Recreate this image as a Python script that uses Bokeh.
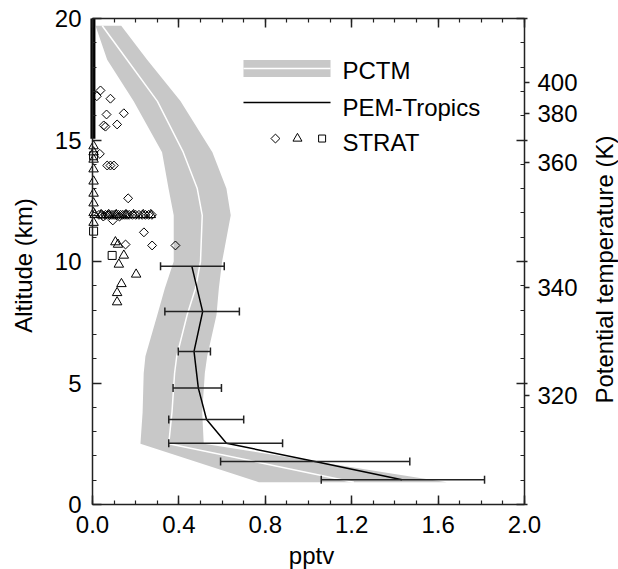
import math
from bokeh.plotting import figure
from bokeh.models import (LinearAxis, SingleIntervalTicker, FixedTicker, PrintfTickFormatter,
                          CustomJSTickFormatter, Whisker, TeeHead, ColumnDataSource, Range1d)
from bokeh.core.properties import value
from bokeh.embed import file_html
from bokeh.resources import INLINE

# ---------------- data ----------------
# PCTM model band: altitude (km), lower / mean / upper mixing ratio (pptv)
pctm_alt  = [19.7, 18.3, 16.6, 14.5, 13.0, 11.9, 10.0, 8.9, 7.8, 6.1, 5.4, 3.8, 2.5, 0.92]
pctm_low  = [0.014, 0.068, 0.19, 0.322, 0.352, 0.376, 0.376, 0.335, 0.30, 0.245, 0.237, 0.232, 0.222, 0.77]
pctm_mean = [0.045, 0.16, 0.30, 0.42, 0.485, 0.508, 0.50, 0.477, 0.438, 0.39, 0.38, 0.368, 0.353, 1.21]
pctm_high = [0.133, 0.253, 0.407, 0.555, 0.62, 0.64, 0.60, 0.585, 0.574, 0.531, 0.52, 0.508, 0.515, 1.64]

# PEM-Tropics profile with error bars
pem_alt  = [9.8, 7.94, 6.3, 4.79, 3.5, 2.52, 1.77, 1.02]
pem_mean = [0.46, 0.51, 0.47, 0.49, 0.528, 0.62, 1.03, 1.433]
pem_low  = [0.315, 0.335, 0.397, 0.373, 0.353, 0.353, 0.593, 1.059]
pem_high = [0.61, 0.68, 0.546, 0.597, 0.70, 0.88, 1.469, 1.815]

# STRAT observations
strat_dia_x = [0.037, 0.02, 0.083, 0.065, 0.145, 0.06, 0.052, 0.114, 0.034, 0.068, 0.083, 0.099,
               0.165, 0.094, 0.238, 0.153, 0.276, 0.384,
               0.03, 0.045, 0.06, 0.07, 0.08, 0.09, 0.10, 0.11, 0.12, 0.13, 0.14, 0.15, 0.16,
               0.17, 0.185, 0.20, 0.215, 0.23, 0.245, 0.26, 0.275, 0.05, 0.125]
strat_dia_alt = [17.04, 16.8, 16.7, 16.05, 16.1, 15.55, 15.6, 15.64, 14.43, 13.95, 13.95, 13.95,
                 12.6, 11.69, 11.2, 10.7, 10.66, 10.66,
                 11.92, 11.92, 11.92, 11.92, 11.92, 11.92, 11.92, 11.92, 11.92, 11.92, 11.92, 11.92, 11.92,
                 11.92, 11.92, 11.92, 11.92, 11.92, 11.92, 11.92, 11.92, 11.85, 11.85]
strat_tri_x = [0.005, 0.005, 0.005, 0.005, 0.005, 0.005, 0.005, 0.005, 0.005,
               0.01, 0.04, 0.075, 0.11, 0.155, 0.19, 0.235, 0.27,
               0.106, 0.118, 0.145, 0.122, 0.202, 0.134, 0.114, 0.114]
strat_tri_alt = [14.75, 14.5, 14.2, 13.8, 13.3, 12.8, 12.4, 12.0, 11.6,
                 11.92, 11.92, 11.92, 11.92, 11.92, 11.92, 11.92, 11.92,
                 10.8, 10.7, 10.25, 9.88, 9.47, 9.08, 8.71, 8.33]
strat_sq_x = [0.005, 0.005, 0.091]
strat_sq_alt = [14.35, 11.25, 10.25]
# near-zero STRAT samples above 15 km (dense column at the axis)
strat_col_x = [0.002, 0.002]
strat_col_alt = [15.05, 20.0]

# potential temperature ticks (right axis)
theta_labels = ["320", "340", "360", "380", "400"]
theta_alt = [4.49, 8.94, 14.09, 16.08, 17.35]

legend_labels = ["PCTM", "PEM-Tropics", "STRAT"]

FONT = "Liberation Sans"
FS = "24px"
GRAY = "#c8c8c8"
AX = "#222222"

# ---------------- layout: plot box 0..2 x 0..20, axes fixed on the box edges ----------------
W, H = 618, 569
BOX_L, BOX_R, BOX_T, BOX_B = 92, 524, 18, 504          # pixel position of the data box
XMIN, XMAX, YMIN, YMAX = 0.0, 2.0, 0.0, 20.0
sx = (BOX_R - BOX_L) / (XMAX - XMIN)
sy = (BOX_B - BOX_T) / (YMAX - YMIN)
x_range = Range1d(XMIN - BOX_L / sx, XMAX + (W - BOX_R) / sx)
y_range = Range1d(YMIN - (H - BOX_B) / sy, YMAX + BOX_T / sy)

def px_x(px):   # horizontal pixel -> data x (for text placement)
    return XMIN + (px - BOX_L) / sx

def px_y(py):   # vertical pixel -> data y (for text placement)
    return YMIN + (BOX_B - py) / sy

p = figure(width=W, height=H, x_range=x_range, y_range=y_range,
           output_backend="svg", toolbar_location=None,
           x_axis_location=None, y_axis_location=None,
           min_border_left=0, min_border_right=0, min_border_top=0, min_border_bottom=0)
p.outline_line_color = None
p.background_fill_color = "white"
p.border_fill_color = "white"
p.grid.grid_line_color = None

# PCTM band
band_x = pctm_low + pctm_high[::-1]
band_y = pctm_alt + pctm_alt[::-1]
p.patch(band_x, band_y, fill_color=GRAY, line_color=None)
p.line(pctm_mean, pctm_alt, line_color="white", line_width=1.5)

# STRAT
p.segment(x0=[strat_col_x[0]], y0=[strat_col_alt[0]], x1=[strat_col_x[1]], y1=[strat_col_alt[1]],
          line_color="black", line_width=5)
p.scatter(strat_dia_x, strat_dia_alt, marker="square", angle=math.pi / 4, size=6.3,
          fill_color=None, line_color="black", line_width=1)
p.scatter(strat_tri_x, strat_tri_alt, marker="triangle", size=9.5,
          fill_color=None, line_color="black", line_width=1)
p.scatter(strat_sq_x, strat_sq_alt, marker="square", size=8,
          fill_color=None, line_color="black", line_width=1)

# PEM-Tropics
src = ColumnDataSource(dict(alt=pem_alt, mean=pem_mean, lo=pem_low, hi=pem_high))
wh = Whisker(source=src, base="alt", lower="lo", upper="hi", dimension="width",
             line_color="#222222", line_width=1.5, level="glyph",
             lower_head=TeeHead(size=8, line_color="#222222", line_width=1.5),
             upper_head=TeeHead(size=8, line_color="#222222", line_width=1.5))
p.add_layout(wh)
p.line("mean", "alt", source=src, line_color="black", line_width=1.5)

# ---------------- legend (drawn manually) ----------------
lx0, lx1 = 0.699, 1.102
ltx = 1.157
p.quad(left=[lx0], right=[lx1], bottom=[17.59], top=[18.29], fill_color=GRAY, line_color=None)
p.line([lx0, lx1], [17.94, 17.94], line_color="white", line_width=1.5)
p.line([lx0, lx1], [16.54, 16.54], line_color="black", line_width=1.5)
p.scatter([0.847], [15.06], marker="square", angle=math.pi / 4, size=6.3,
          fill_color=None, line_color="black", line_width=1)
p.scatter([0.949], [15.06], marker="triangle", size=9, fill_color=None, line_color="black", line_width=1)
p.scatter([1.063], [15.06], marker="square", size=7, fill_color=None, line_color="black", line_width=1)
p.text(x=[ltx] * 3, y=[17.86, 16.35, 14.91], text=legend_labels, text_font=value(FONT),
       text_font_size=FS, text_color="black", text_baseline="middle", text_align="left")

# ---------------- axes ----------------
def style(ax):
    ax.axis_line_color = AX
    ax.axis_line_width = 1.5
    ax.major_tick_line_color = AX
    ax.major_tick_line_width = 1.5
    ax.minor_tick_line_color = AX
    ax.minor_tick_line_width = 1.2
    ax.major_label_text_font = FONT
    ax.major_label_text_font_size = FS
    ax.major_label_text_color = "black"

xb = LinearAxis(ticker=SingleIntervalTicker(interval=0.4, num_minor_ticks=4),
                formatter=PrintfTickFormatter(format="%.1f"),
                fixed_location=YMIN, bounds=(XMIN, XMAX))
style(xb)
xb.major_tick_in, xb.major_tick_out = 9, 0
xb.minor_tick_in, xb.minor_tick_out = 4, 0
xb.major_label_standoff = 11
p.add_layout(xb, "below")

xt = LinearAxis(ticker=SingleIntervalTicker(interval=0.4, num_minor_ticks=4),
                formatter=CustomJSTickFormatter(code="return ''"),
                fixed_location=YMAX, bounds=(XMIN, XMAX))
style(xt)
xt.major_tick_in, xt.major_tick_out = 9, 0
xt.minor_tick_in, xt.minor_tick_out = 4, 0
xt.major_label_standoff = 0
xt.major_label_text_font_size = "0px"
p.add_layout(xt, "above")

yl = LinearAxis(ticker=SingleIntervalTicker(interval=5, num_minor_ticks=5),
                fixed_location=XMIN, bounds=(YMIN, YMAX))
style(yl)
yl.major_tick_in, yl.major_tick_out = 9, 0
yl.minor_tick_in, yl.minor_tick_out = 4, 0
yl.major_label_standoff = 11
p.add_layout(yl, "left")

theta_fmt = CustomJSTickFormatter(args=dict(alts=theta_alt, labs=theta_labels), code="""
let best = 0, bd = 1e9;
for (let i = 0; i < alts.length; i++) {
  const d = Math.abs(alts[i] - tick);
  if (d < bd) { bd = d; best = i; }
}
return labs[best];
""")
yr = LinearAxis(ticker=FixedTicker(ticks=theta_alt, minor_ticks=list(range(0, 21))),
                formatter=theta_fmt, fixed_location=XMAX, bounds=(YMIN, YMAX))
style(yr)
yr.major_tick_in, yr.major_tick_out = 0, 5
yr.minor_tick_in, yr.minor_tick_out = 4, 0
yr.major_label_standoff = 8
p.add_layout(yr, "right")

# altitude major ticks on the right edge (no labels)
yr2 = LinearAxis(ticker=SingleIntervalTicker(interval=5, num_minor_ticks=0),
                 formatter=CustomJSTickFormatter(code="return ''"),
                 fixed_location=XMAX, bounds=(YMIN, YMAX))
style(yr2)
yr2.axis_line_color = None
yr2.major_tick_in, yr2.major_tick_out = 8, 3
yr2.minor_tick_line_color = None
yr2.major_label_text_font_size = "0px"
p.add_layout(yr2, "right")

# axis titles
p.text(x=[px_x(23)], y=[px_y(265)], text=["Altitude (km)"], angle=math.pi / 2,
       text_font=value(FONT), text_font_size=FS, text_color="black",
       text_align="center", text_baseline="middle")
p.text(x=[px_x(604)], y=[px_y(269)], text=["Potential temperature (K)"], angle=math.pi / 2,
       text_font=value(FONT), text_font_size=FS, text_color="black",
       text_align="center", text_baseline="middle")
p.text(x=[px_x(311)], y=[px_y(555)], text=["pptv"],
       text_font=value(FONT), text_font_size=FS, text_color="black",
       text_align="center", text_baseline="middle")

open("out.html", "w").write(file_html(p, INLINE))
